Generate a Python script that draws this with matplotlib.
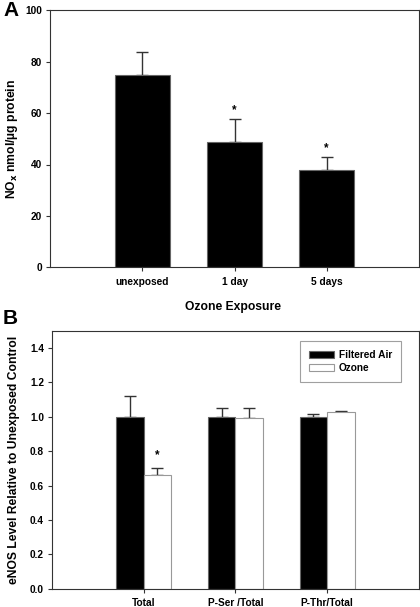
import matplotlib.pyplot as plt
import numpy as np

plt.rcParams['font.family'] = ['Liberation Sans', 'DejaVu Sans']
plt.rcParams['font.weight'] = 'bold'

# panel A data
groups_a = ["unexposed", "1 day", "5 days"]
nox = [75.0, 48.6, 37.9]
nox_err = [8.6, 9.0, 5.1]
nox_sig = [False, True, True]

# panel B data
groups_b = ["Total", "P-Ser /Total", "P-Thr/Total"]
filtered_air = [1.0, 1.0, 1.0]
filtered_err = [0.12, 0.048, 0.017]
ozone = [0.66, 0.99, 1.025]
ozone_err = [0.04, 0.058, 0.008]
ozone_sig = [True, False, False]

spine_col = "#333333"
edge_col = "#666666"

fig = plt.figure(figsize=(4.2, 6.07), dpi=100)
W, H = 420, 607
ax1 = fig.add_axes([50 / W, 1 - 267.3 / H, 369 / W, 257 / H])
ax2 = fig.add_axes([51.7 / W, 1 - 588.7 / H, 367.3 / W, 258 / H])

x = np.arange(1, 4)

# --- panel A
ax1.bar(x, nox, width=0.6, color="black", edgecolor=edge_col, linewidth=0.8, zorder=2)
ax1.errorbar(x, nox, yerr=[np.zeros(3), nox_err], fmt="none", ecolor="#333333",
             elinewidth=1, capsize=4, capthick=1, zorder=1)
for xi, v, e, s in zip(x, nox, nox_err, nox_sig):
    if s:
        ax1.text(xi, v + e + 3.5, "*", ha="center", va="center", fontsize=8.5)
ax1.set_xlim(0, 4)
ax1.set_ylim(0, 100)
ax1.set_yticks(range(0, 101, 20))
ax1.set_xticks(x)
ax1.set_xticklabels(groups_a)
ax1.set_xlabel("Ozone Exposure", fontsize=8.7, fontweight="bold")
ax1.xaxis.set_label_coords(0.497, -0.131)
ax1.set_ylabel("NO$_\\mathbf{x}$ nmol/µg protein", fontsize=8.7, fontweight="bold")
ax1.yaxis.set_label_coords(-0.081, 0.5)

# --- panel B
w = 0.3
ax2.bar(x - w / 2, filtered_air, width=w, color="black", edgecolor=edge_col,
        linewidth=0.8, label="Filtered Air", zorder=2)
ax2.bar(x + w / 2, ozone, width=w, color="white", edgecolor="#999999",
        linewidth=0.8, label="Ozone", zorder=2)
ax2.errorbar(x - w / 2, filtered_air, yerr=[np.zeros(3), filtered_err], fmt="none",
             ecolor="#333333", elinewidth=1, capsize=4, capthick=1, zorder=1)
ax2.errorbar(x + w / 2, ozone, yerr=[np.zeros(3), ozone_err], fmt="none",
             ecolor="#333333", elinewidth=1, capsize=4, capthick=1, zorder=1)
for xi, v, e, s in zip(x + w / 2, ozone, ozone_err, ozone_sig):
    if s:
        ax2.text(xi, v + e + 0.075, "*", ha="center", va="center", fontsize=8.5)
ax2.set_xlim(0, 4)
ax2.set_ylim(0, 1.5)
ax2.set_yticks(np.arange(0, 1.41, 0.2))
ax2.set_yticklabels([f"{t:.1f}" for t in np.arange(0, 1.41, 0.2)])
ax2.set_xticks(x)
ax2.set_xticklabels(groups_b)
ax2.set_ylabel("eNOS Level Relative to Unexposed Control", fontsize=8.7,
               fontweight="bold")
ax2.yaxis.set_label_coords(-0.086, 0.5)
leg = ax2.legend(loc="upper right", bbox_to_anchor=(0.951, 0.96), borderaxespad=0,
                 fontsize=7.3, frameon=True, fancybox=False, edgecolor="#888888",
                 handlelength=2.4, handleheight=0.7, borderpad=0.9,
                 labelspacing=0.25, handletextpad=0.5)
leg.get_frame().set_linewidth(0.8)

for ax in (ax1, ax2):
    for sp in ax.spines.values():
        sp.set_color(spine_col)
        sp.set_linewidth(0.8)
    ax.tick_params(axis="both", labelsize=7.3, color=spine_col, length=3, width=0.8)
    ax.tick_params(axis="x", pad=4)
    ax.tick_params(axis="y", pad=2.5)

fig.text(3 / W, 1 - 10 / H, "A", fontsize=15, fontweight="bold", va="center")
fig.text(3 / W, 1 - 318 / H, "B", fontsize=15, fontweight="bold", va="center")

fig.savefig("out.png", dpi=100)
